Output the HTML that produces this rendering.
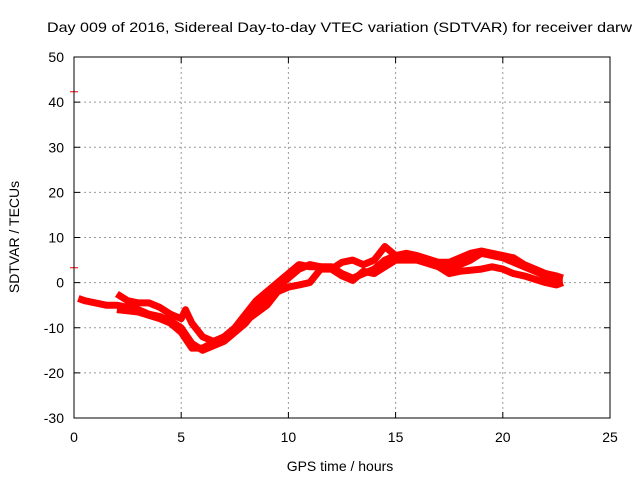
<!DOCTYPE html>
<html><head><meta charset="utf-8"><style>
body{margin:0;background:#fff}
svg text{font-family:"Liberation Sans",sans-serif;font-size:14px;fill:#000}
</style></head><body>
<svg id="chart" width="640" height="480" xmlns="http://www.w3.org/2000/svg">
<rect width="640" height="480" fill="#fff"/>
<text x="47" y="32" textLength="585" lengthAdjust="spacingAndGlyphs">Day 009 of 2016, Sidereal Day-to-day VTEC variation (SDTVAR) for receiver darw</text>
<g id="grid"></g>
<g id="ticks"></g>
<g id="series"></g>
<rect x="74" y="57" width="536" height="361" fill="none" stroke="#000" stroke-width="1"/>
<text x="340" y="471" text-anchor="middle">GPS time / hours</text>
<text x="0" y="0" transform="translate(19,237) rotate(-90)" text-anchor="middle">SDTVAR / TECUs</text>
</svg>
<script>
const xTicks=[0,5,10,15,20,25];
const yTicks=[-30,-20,-10,0,10,20,30,40,50];
const t1=[0.2,0.5,1,1.5,2,2.5,3,3.5,4,4.5,5,5.5,6,6.5,7,7.5,8,8.5,9,9.5,10,10.5,11,11.5,12,12.5,13,13.5,14,14.5,15,15.5,16,16.5,17,17.5,18,18.5,19,19.5,20,20.5,21,21.5,22,22.5,22.8];
const v1=[-3.5,-4,-4.5,-5,-5,-5.5,-6,-7,-7.5,-8.5,-10,-13.5,-15,-14,-13,-11,-9,-6,-3.5,-1,1,3,4,3.5,3.5,2,1,2,3,5,6,6,5.5,4.5,4,3,4,5,6.5,6,5.5,4.5,3.5,2.5,1.5,0.5,0.5];
const t2=[2,2.5,3,3.5,4,4.5,5,5.2,5.5,6,6.5,7,7.5,8,8.5,9,9.5,10,10.5,11,11.5,12,12.5,13,13.5,14,14.5,15,15.5,16,17,17.5,18,18.5,19,19.5,20,20.5,21,21.5,22,22.5,22.8];
const v2=[-2.5,-4,-4.5,-4.5,-5.5,-7,-8,-6,-9,-12,-13,-12,-10,-7,-4,-2,0,2,4,3.5,3.5,3,4.5,5,4,5,8,6,6.5,6,4.5,4.5,5.5,6.5,7,6.5,6,5.5,4,3,2,1.5,1];
const t3=[2,3,4,4.5,5,5.5,6,7,8,9,9.5,10,10.5,11,11.5,12,12.5,13,13.5,14,14.5,15,16,17,17.5,18,19,19.5,20,20.5,21,22,22.5,22.8];
const v3=[-6,-6.5,-8,-9,-11,-14.5,-14.5,-12,-8.5,-5,-2,-1,-0.5,0,3,3,1.5,0.5,2.5,2,3.5,5,5,3.5,2,2.5,3,3.5,3,2,1.5,0,-0.5,0];
const outT=[0,0];
const outV=[42.3,3.3];
const X=h=>74+h*(536/25);
const Y=v=>57+(50-v)*(361/80);
const NS="http://www.w3.org/2000/svg";
const grid=document.getElementById('grid'),ticks=document.getElementById('ticks'),ser=document.getElementById('series');
function mk(tag,attrs,parent){const e=document.createElementNS(NS,tag);for(const k in attrs)e.setAttribute(k,attrs[k]);parent.appendChild(e);return e;}
xTicks.forEach(t=>{
  const x=X(t);
  if(t>0&&t<25){const g=mk('line',{x1:x,x2:x,y1:57,y2:418,stroke:'#999','stroke-dasharray':'2,3'},grid);
  
  }
  mk('line',{x1:x,x2:x,y1:418,y2:412,stroke:'#000'},ticks);
  mk('line',{x1:x,x2:x,y1:57,y2:63,stroke:'#000'},ticks);
  const l=mk('text',{x:x,y:442,'text-anchor':'middle'},ticks);l.textContent=t;
  
  
});
yTicks.forEach(v=>{
  const y=Y(v);
  if(v>-30&&v<50){const g=mk('line',{x1:74,x2:610,y1:y,y2:y,stroke:'#999','stroke-dasharray':'2,3'},grid);
  
  }
  mk('line',{x1:74,x2:80,y1:y,y2:y,stroke:'#000'},ticks);
  mk('line',{x1:604,x2:610,y1:y,y2:y,stroke:'#000'},ticks);
  const l=mk('text',{x:64,y:y+5,'text-anchor':'end'},ticks);l.textContent=v;
  
  
});
[[t1,v1],[t2,v2],[t3,v3]].forEach((s,i)=>{
  const pts=s[0].map((t,j)=>X(t).toFixed(1)+','+Y(s[1][j]).toFixed(1)).join(' ');
  const p=mk('polyline',{points:pts,fill:'none',stroke:'#f00','stroke-width':7,'stroke-linejoin':'round','stroke-linecap':'butt'},ser);
  
  
});
outT.forEach((t,j)=>{
  const o=mk('line',{x1:X(t)-4,x2:X(t)+4,y1:Y(outV[j]),y2:Y(outV[j]),stroke:'#f00','stroke-width':1},ser);
  
  
});
</script>
</body></html>
